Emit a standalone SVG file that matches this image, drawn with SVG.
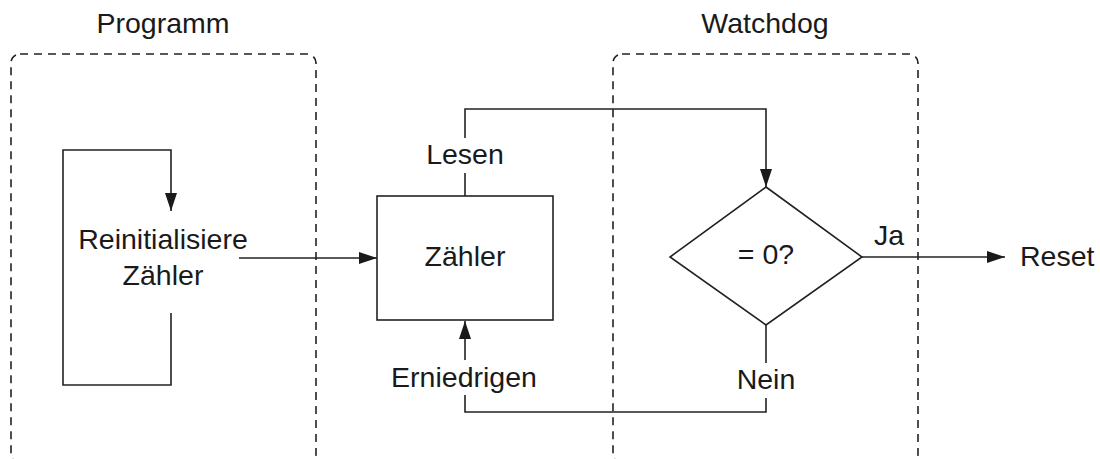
<svg xmlns="http://www.w3.org/2000/svg" width="1100" height="459" viewBox="0 0 1100 459">
  <defs>
    <style>
      .t { font-family: "Liberation Sans", Arial, sans-serif; font-size: 28.5px; fill: #1a1a1a; }
      .m { text-anchor: middle; }
      .group { fill: none; stroke: #222; stroke-width: 1.6; stroke-dasharray: 8 6; }
      .shape { fill: #fff; stroke: #222; stroke-width: 1.6; }
      .line { fill: none; stroke: #222; stroke-width: 1.6; }
      .arr { marker-end: url(#ah); }
    </style>
    <marker id="ah" viewBox="0 0 18 12" refX="18" refY="6" markerWidth="18" markerHeight="12" markerUnits="userSpaceOnUse" orient="auto">
      <path d="M0,0 L18,6 L0,12 Z" fill="#1a1a1a"/>
    </marker>
  </defs>
  <rect width="1100" height="459" fill="#fff"/>

  <g id="programm">
    <rect class="group" x="11" y="54" width="305" height="409" rx="9"/>
    <text class="t m" x="163" y="33">Programm</text>
  </g>
  <g id="watchdog">
    <rect class="group" x="613" y="54" width="305" height="409" rx="9"/>
    <text class="t m" x="765" y="33">Watchdog</text>
  </g>

  <g id="connectors">
    <path class="line arr" d="M171,313 V385 H63 V150 H171 V211"/>
    <path class="line arr" d="M239,258 H377"/>
    <path class="line" d="M465,196 V173"/>
    <path class="line arr" d="M465,138 V109 H766 V187"/>
    <path class="line arr" d="M862,257 H1005"/>
    <path class="line" d="M766,325 V363"/>
    <path class="line arr" d="M766,398 V412 H465 V395 M465,360 V321"/>
    <text class="t" x="874" y="245">Ja</text>
    <text class="t m" x="766" y="389">Nein</text>
    <text class="t m" x="465" y="164">Lesen</text>
    <text class="t m" x="464" y="387">Erniedrigen</text>
  </g>

  <g id="reinit">
    <text class="t m" x="163" y="249">Reinitialisiere</text>
    <text class="t m" x="163" y="285">Zähler</text>
  </g>
  <g id="zaehler">
    <rect class="shape" x="377" y="196" width="176" height="124"/>
    <text class="t m" x="465" y="266">Zähler</text>
  </g>
  <g id="test">
    <polygon class="shape" points="766,187 862,257 766,325 670,257"/>
    <text class="t m" x="766" y="264">= 0?</text>
  </g>
  <g id="reset">
    <text class="t" x="1020" y="266">Reset</text>
  </g>
</svg>
